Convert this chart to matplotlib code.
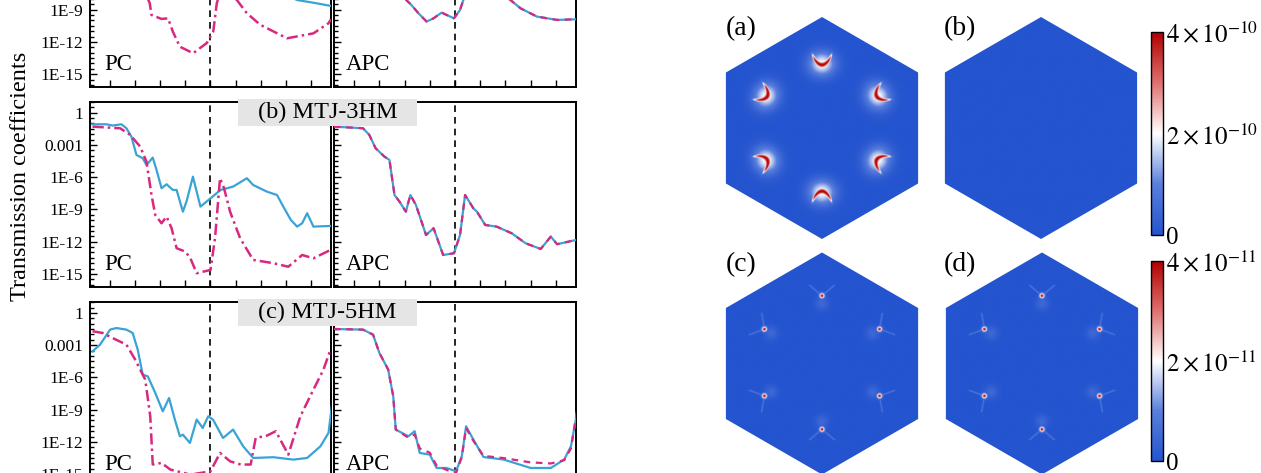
import numpy as np
import matplotlib
matplotlib.use('Agg')
import matplotlib.pyplot as plt
from matplotlib.colors import LinearSegmentedColormap, Normalize
from matplotlib.patches import Polygon, Rectangle
from matplotlib.ticker import FixedLocator, FixedFormatter, NullFormatter
import matplotlib.colorbar as mcb

plt.rcParams['font.family'] = ['Liberation Serif', 'DejaVu Serif']
plt.rcParams['mathtext.fontset'] = 'stix'

# ---- transmission curves: energy (eV) and log10(T) ----
# row (a) (only the lower part is inside the crop)
a_pc_blue_e = [-0.96, -0.5, 0.0, 0.4, 0.69, 0.82, 0.96]
a_pc_blue_t = [-1.0, -3.0, -5.0, -6.5, -8.1, -8.35, -8.65]
a_pc_mag_e = [-0.96, -0.7, -0.55, -0.484, -0.47, -0.39, -0.338, -0.30, -0.244,
              -0.138, -0.03, 0.022, 0.05, 0.1, 0.21, 0.29, 0.396, 0.61, 0.82,
              0.94, 0.96]
a_pc_mag_t = [-1.5, -3.5, -6.5, -8.4, -9.49, -9.86, -9.8, -11.04, -12.44,
              -13.05, -12.1, -11.04, -8.4, -6.5, -8.1, -9.33, -10.4, -11.66,
              -11.2, -10.26, -9.9]
a_apc_e = [-0.96, -0.6, -0.386, -0.346, -0.29, -0.226, -0.17, -0.106, -0.066,
           -0.008, 0.04, 0.066, 0.2, 0.44, 0.52, 0.65, 0.81, 0.96]
a_apc_t = [-1.2, -4.5, -8.1, -8.56, -9.33, -10.1, -9.8, -9.27, -9.49,
           -9.8, -9.02, -8.1, -6.0, -8.1, -8.87, -9.64, -9.95, -9.89]

# row (b) MTJ-3HM
b_pc_blue_e = [-0.94, -0.83, -0.78, -0.71, -0.67, -0.63, -0.59, -0.54, -0.51,
               -0.46, -0.43, -0.39, -0.35, -0.30, -0.27, -0.22, -0.19, -0.14,
               -0.11, -0.08, 0.0, 0.08, 0.18, 0.29, 0.34, 0.45, 0.53, 0.58,
               0.64, 0.69, 0.73, 0.77, 0.82, 0.956]
b_pc_blue_t = [-1.08, -1.08, -1.2, -1.08, -1.45, -2.23, -3.93, -4.24, -4.87,
               -4.18, -5.33, -7.03, -6.66, -7.19, -7.19, -9.21, -8.21, -5.95,
               -7.35, -8.74, -7.97, -7.19, -6.88, -6.1, -6.73, -7.35, -7.66,
               -8.74, -9.98, -10.6, -10.29, -9.36, -10.6, -10.54]
b_pc_mag_e = [-0.94, -0.72, -0.64, -0.56, -0.51, -0.47, -0.44, -0.39, -0.35,
              -0.31, -0.27, -0.20, -0.16, -0.11, 0.0, 0.036, 0.076, 0.108,
              0.156, 0.236, 0.34, 0.50, 0.62, 0.73, 0.82, 0.956]
b_pc_mag_t = [-1.3, -1.45, -2.07, -3.16, -4.56, -7.66, -9.52, -10.29, -9.67,
              -10.75, -12.61, -12.93, -13.55, -14.94, -14.63, -11.68, -6.1,
              -7.03, -9.21, -11.68, -13.7, -14.0, -14.33, -13.24, -13.55,
              -12.77]
b_apc_e = [-0.96, -0.73, -0.68, -0.63, -0.56, -0.52, -0.48, -0.44, -0.39,
           -0.354, -0.31, -0.23, -0.17, -0.094, -0.008, 0.04, 0.08, 0.146,
           0.174, 0.24, 0.33, 0.45, 0.56, 0.68, 0.76, 0.81, 0.96]
b_apc_t = [-1.3, -1.45, -2.07, -3.31, -4.09, -4.4, -7.66, -8.28, -9.21,
           -7.66, -8.59, -11.38, -10.75, -13.24, -13.08, -11.38, -7.66, -8.9,
           -9.21, -10.45, -10.6, -11.22, -12.15, -12.68, -11.53, -12.24,
           -11.84]

# row (c) MTJ-5HM
c_pc_blue_e = [-0.94, -0.88, -0.80, -0.75, -0.67, -0.62, -0.58, -0.54, -0.50,
               -0.44, -0.38, -0.33, -0.284, -0.244, -0.22, -0.164, -0.11,
               -0.062, -0.018, 0.02, 0.10, 0.18, 0.26, 0.34, 0.50, 0.66, 0.77,
               0.876, 0.94, 0.97]
c_pc_blue_t = [-3.57, -2.95, -1.55, -1.4, -1.55, -1.86, -3.41, -5.74, -5.89,
               -7.44, -9.15, -7.91, -9.92, -11.47, -11.32, -12.09, -9.92,
               -10.7, -9.61, -9.92, -11.63, -10.85, -12.4, -13.49, -13.42,
               -13.64, -13.49, -12.4, -11.16, -8.37]
c_pc_mag_e = [-0.94, -0.86, -0.78, -0.67, -0.60, -0.52, -0.48, -0.46, -0.39,
              -0.32, -0.16, 0.0, 0.076, 0.156, 0.24, 0.32, 0.36, 0.45, 0.52,
              0.62, 0.716, 0.82, 0.90, 0.956]
c_pc_mag_t = [-1.7, -1.86, -2.33, -2.95, -4.34, -6.2, -9.61, -14.1, -13.95,
              -14.57, -15.04, -14.73, -13.02, -13.8, -14.1, -14.1, -11.63,
              -11.41, -11.0, -13.18, -9.61, -7.13, -5.27, -3.41]
c_apc_e = [-0.96, -0.73, -0.65, -0.60, -0.53, -0.49, -0.47, -0.37, -0.32,
           -0.28, -0.20, -0.146, -0.066, 0.008, 0.054, 0.088, 0.146, 0.226,
           0.386, 0.60, 0.76, 0.866, 0.92, 0.968]
c_apc_blue_t = [-1.49, -1.55, -2.02, -3.72, -5.27, -7.75, -10.85, -11.47,
                -11.0, -13.02, -13.18, -14.42, -14.42, -14.73, -13.33, -10.54,
                -11.78, -13.4, -13.64, -14.42, -14.42, -13.64, -12.4, -9.3]
c_apc_mag_t = [-1.49, -1.55, -2.02, -3.72, -5.27, -7.75, -10.85, -11.6,
               -11.3, -12.6, -13.0, -14.2, -14.6, -14.9, -13.4, -10.7,
               -11.9, -13.3, -13.5, -13.9, -14.0, -13.7, -12.6, -9.1]

rows = [
    dict(pc=[(a_pc_blue_e, a_pc_blue_t), (a_pc_mag_e, a_pc_mag_t)],
         apc=[(a_apc_e, a_apc_t), (a_apc_e, a_apc_t)], title=None),
    dict(pc=[(b_pc_blue_e, b_pc_blue_t), (b_pc_mag_e, b_pc_mag_t)],
         apc=[(b_apc_e, b_apc_t), (b_apc_e, b_apc_t)], title='(b) MTJ-3HM'),
    dict(pc=[(c_pc_blue_e, c_pc_blue_t), (c_pc_mag_e, c_pc_mag_t)],
         apc=[(c_apc_e, c_apc_blue_t), (c_apc_e, c_apc_mag_t)],
         title='(c) MTJ-5HM'),
]

ytick_vals = [1, 1e-3, 1e-6, 1e-9, 1e-12, 1e-15]
ytick_labels = ['1', '0.001', '1E-6', '1E-9', '1E-12', '1E-15']

# ---- k-resolved transmission maps ----
hot_angles = [90, 30, -30, -90, -150, 150]   # directions of the six hot spots
hot_r_ab = 0.62
hot_r_cd = 0.60
cbar_top_ticks = [0, 2e-10, 4e-10]
cbar_top_labels = ['0', r'$2\times10^{-10}$', r'$4\times10^{-10}$']
cbar_bot_ticks = [0, 2e-11, 4e-11]
cbar_bot_labels = ['0', r'$2\times10^{-11}$', r'$4\times10^{-11}$']

blue = '#3aa3d6'
magenta = '#d8287f'

W, H = 1261, 473
fig = plt.figure(figsize=(W / 100, H / 100), dpi=100)


def px_rect(x0, y0, x1, y1):
    return [x0 / W, 1 - y1 / H, (x1 - x0) / W, (y1 - y0) / H]


row_tops = [-98, 101.7, 302]
ph = 185
cols = [(90, 331), (334, 576)]
ylim = (10 ** -16.19, 10 ** 1.02)

for r, row in enumerate(rows):
    top = row_tops[r]
    for c, key in enumerate(['pc', 'apc']):
        ax = fig.add_axes(px_rect(cols[c][0], top, cols[c][1], top + ph))
        (be, bt), (me, mt) = row[key]
        ax.plot(be, 10 ** np.array(bt), color=blue, lw=1.6, zorder=3)
        if key == 'pc':
            ax.plot(me, 10 ** np.array(mt), color=magenta, lw=1.8,
                    dashes=(4.5, 1.6, 1, 1.6), zorder=4)
        else:
            ax.plot(me, 10 ** np.array(mt), color=magenta, lw=1.6,
                    dashes=(3, 2.5), zorder=4)
        ax.axvline(0, color='k', lw=1.2, dashes=(4, 3), zorder=2)
        ax.set_yscale('log')
        ax.set_ylim(*ylim)
        ax.set_xlim(-0.96, 0.96)
        ax.set_xticks([-0.8, -0.6, -0.4, -0.2, 0, 0.2, 0.4, 0.6, 0.8])
        ax.yaxis.set_minor_locator(FixedLocator(10 ** np.arange(-16, 1.01, 0.5)))
        ax.yaxis.set_minor_formatter(NullFormatter())
        if r == 0:
            # the top of row (a) lies outside the cropped picture
            ax.yaxis.set_major_locator(FixedLocator(ytick_vals[3:]))
            labs = ytick_labels[3:]
        else:
            ax.yaxis.set_major_locator(FixedLocator(ytick_vals))
            labs = ytick_labels
        if c == 0:
            ax.yaxis.set_major_formatter(FixedFormatter(labs))
        else:
            ax.yaxis.set_major_formatter(NullFormatter())
        ax.tick_params(which='both', direction='in', top=False, right=False,
                       labelbottom=False, width=1.0)
        ax.tick_params(which='major', length=5, labelsize=12.5, pad=5)
        ax.tick_params(which='minor', length=3)
        for s in ax.spines.values():
            s.set_linewidth(1.4)
        ax.text(0.06 if c == 0 else 0.05, 0.12, key.upper(),
                transform=ax.transAxes, fontsize=16.5, va='center')
    if row['title']:
        fig.add_artist(Rectangle((238 / W, 1 - (top + 24) / H), 179 / W, 27 / H,
                                 transform=fig.transFigure, facecolor='#e5e5e5',
                                 edgecolor='none', zorder=5))
        fig.text(327.5 / W, 1 - (top + 10.5) / H, row['title'], fontsize=17.5,
                 ha='center', va='center', zorder=6)

fig.text(21 / W, 1 - 176 / H, 'Transmission coefficients', rotation=90,
         fontsize=17.5, ha='center', va='center')

# ---- hexagon maps ----
cmap = LinearSegmentedColormap.from_list(
    'bwr_m', ['#2454cf', '#5a7fdc', '#ffffff', '#e07070', '#b00000'])
hx = 0.874
gx, gy = np.meshgrid(np.linspace(-hx, hx, 500), np.linspace(-1, 1, 560))


def field_strong(X, Y):
    Z = np.zeros_like(X)
    for th in np.deg2rad(hot_angles):
        ex, ey = np.cos(th), np.sin(th)
        u = X * ex + Y * ey - hot_r_ab
        v = -X * ey + Y * ex
        d = u - (11 * v ** 2 - 0.05)
        ridge = np.exp(-(d / 0.03) ** 2) * np.exp(-(v / 0.09) ** 8)
        haze = 0.5 * np.exp(-((u + 0.04) ** 2 + (v / 1.1) ** 2) / 0.11 ** 2)
        Z = np.maximum(Z, np.maximum(ridge, haze))
    return Z


def field_weak(X, Y):
    Z = np.zeros_like(X)
    for th in np.deg2rad(hot_angles):
        ex, ey = np.cos(th), np.sin(th)
        u = X * ex + Y * ey - hot_r_cd
        v = -X * ey + Y * ex
        dot = np.exp(-(u ** 2 + v ** 2) / 0.022 ** 2)
        haze = 0.12 * np.exp(-((u + 0.07) ** 2 + v ** 2) / 0.06 ** 2)
        part = np.maximum(dot, haze)
        for sg in (1, -1):
            ca, sa = np.cos(np.deg2rad(50)), sg * np.sin(np.deg2rad(50))
            t = u * ca + v * sa
            n = -u * sa + v * ca
            arm = 0.2 * np.exp(-(n / 0.007) ** 2) * ((t > 0.02) & (t < 0.15))
            part = np.maximum(part, arm)
        Z = np.maximum(Z, part)
    return Z


hex_verts = np.column_stack([np.cos(np.deg2rad(np.arange(90, 450, 60))),
                             np.sin(np.deg2rad(np.arange(90, 450, 60)))])
hex_specs = [((822, 128), field_strong), ((1041, 128), None),
             ((822, 363.5), field_weak), ((1042, 363.5), field_weak)]
for (cx, cy), fn in hex_specs:
    ax = fig.add_axes(px_rect(cx - 97, cy - 111, cx + 97, cy + 111))
    Z = fn(gx, gy) if fn is not None else np.zeros_like(gx)
    im = ax.imshow(Z, extent=[-hx, hx, -1, 1], origin='lower', cmap=cmap,
                   vmin=0, vmax=1, interpolation='bilinear', aspect='auto')
    poly = Polygon(hex_verts, closed=True, transform=ax.transData,
                   facecolor='none', edgecolor='none')
    ax.add_patch(poly)
    im.set_clip_path(poly)
    ax.set_xlim(-hx, hx)
    ax.set_ylim(-1, 1)
    ax.axis('off')

for lab, (lx, ly) in zip(['(a)', '(b)', '(c)', '(d)'],
                         [(741, 29), (960, 29), (741, 265), (960, 265)]):
    fig.text(lx / W, 1 - ly / H, lab, fontsize=20, ha='center', va='center')

for (y0, y1), vmax, ticks, labels in [((32, 235), 4e-10, cbar_top_ticks, cbar_top_labels),
                                      ((261, 461), 4e-11, cbar_bot_ticks, cbar_bot_labels)]:
    cax = fig.add_axes(px_rect(1151, y0, 1163, y1))
    cb = mcb.ColorbarBase(cax, cmap=cmap, norm=Normalize(0, vmax),
                          orientation='vertical')
    cb.set_ticks(ticks)
    cb.set_ticklabels(labels)
    cax.tick_params(length=0, labelsize=18, pad=2)
    cb.outline.set_linewidth(1.0)

fig.savefig('out.png', dpi=100)
